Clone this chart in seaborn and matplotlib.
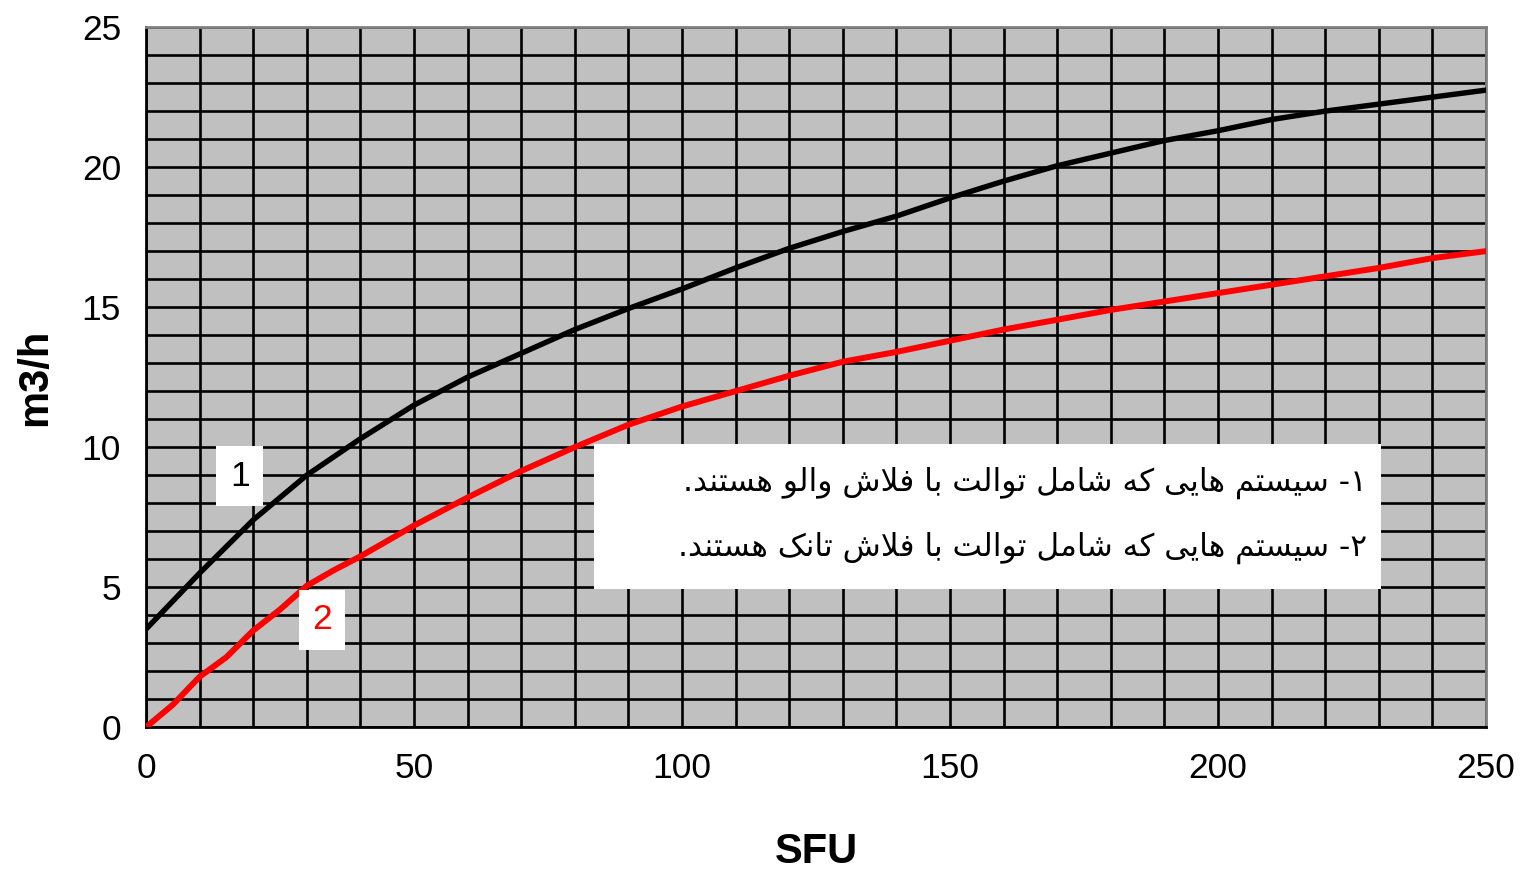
import numpy as np
import pandas as pd
import matplotlib
matplotlib.use("Agg")
import matplotlib.pyplot as plt
from matplotlib.ticker import MultipleLocator
from matplotlib.patches import Rectangle
import seaborn as sns

# ---------------- data ----------------
sfu = [0, 5, 10, 15, 20, 25, 30, 35, 40, 50, 60, 70, 80, 90, 100, 110, 120,
       130, 140, 150, 160, 170, 180, 190, 200, 210, 220, 230, 240, 250]
flow_valve = [3.5, 4.5, 5.5, 6.45, 7.4, 8.2, 9.0, 9.65, 10.3, 11.5, 12.5, 13.35,
              14.2, 14.95, 15.65, 16.4, 17.1, 17.7, 18.25, 18.9, 19.5, 20.05,
              20.5, 20.95, 21.3, 21.7, 22.0, 22.25, 22.5, 22.75]
flow_tank = [0.0, 0.8, 1.8, 2.5, 3.45, 4.2, 5.05, 5.6, 6.1, 7.2, 8.2, 9.15, 10.0,
             10.8, 11.45, 12.0, 12.55, 13.05, 13.4, 13.8, 14.2, 14.55, 14.9, 15.2,
             15.5, 15.8, 16.1, 16.4, 16.75, 17.0]
x_ticks = [0, 50, 100, 150, 200, 250]
y_ticks = [0, 5, 10, 15, 20, 25]
x_label = "SFU"
y_label = "m3/h"
curve_labels = ["1", "2"]
legend_lines = ["۱- سیستم هایی که شامل توالت با فلاش والو هستند.",
                "۲- سیستم هایی که شامل توالت با فلاش تانک هستند."]

# ---------------- minimal Persian shaping (matplotlib has no bidi) ----------------
FORMS = {
    '\u0627': ('\uFE8D', '\uFE8E', None, None),
    '\u0628': ('\uFE8F', '\uFE90', '\uFE91', '\uFE92'),
    '\u062A': ('\uFE95', '\uFE96', '\uFE97', '\uFE98'),
    '\u062F': ('\uFEA9', '\uFEAA', None, None),
    '\u0633': ('\uFEB1', '\uFEB2', '\uFEB3', '\uFEB4'),
    '\u0634': ('\uFEB5', '\uFEB6', '\uFEB7', '\uFEB8'),
    '\u0641': ('\uFED1', '\uFED2', '\uFED3', '\uFED4'),
    '\u0644': ('\uFEDD', '\uFEDE', '\uFEDF', '\uFEE0'),
    '\u0645': ('\uFEE1', '\uFEE2', '\uFEE3', '\uFEE4'),
    '\u0646': ('\uFEE5', '\uFEE6', '\uFEE7', '\uFEE8'),
    '\u0647': ('\uFEE9', '\uFEEA', '\uFEEB', '\uFEEC'),
    '\u0648': ('\uFEED', '\uFEEE', None, None),
    '\u06A9': ('\uFB8E', '\uFB8F', '\uFB90', '\uFB91'),
    '\u06CC': ('\uFBFC', '\uFBFD', '\uFBFE', '\uFBFF'),
}
LAM, ALEF = '\u0644', '\u0627'


def shape_rtl(text):
    chars = list(text)
    n = len(chars)
    dual = lambda c: c in FORMS and FORMS[c][2] is not None
    out = []
    i = 0
    while i < n:
        c = chars[i]
        if c not in FORMS:
            out.append(c)
            i += 1
            continue
        link_prev = i > 0 and dual(chars[i - 1])
        if c == LAM and i + 1 < n and chars[i + 1] == ALEF:
            out.append('\uFEFC' if link_prev else '\uFEFB')
            i += 2
            continue
        link_next = dual(c) and i + 1 < n and chars[i + 1] in FORMS
        iso, fin, ini, med = FORMS[c]
        if link_prev and link_next:
            out.append(med)
        elif link_prev:
            out.append(fin)
        elif link_next:
            out.append(ini)
        else:
            out.append(iso)
        i += 1
    return ''.join(reversed(out))


# ---------------- plot ----------------
sns.set_theme(style="white")
plt.rcParams['font.family'] = ['Liberation Sans', 'DejaVu Sans']

fig = plt.figure(figsize=(15.21, 8.75), dpi=100)
ax = fig.add_axes([0.096, 0.169, 0.881, 0.8])
ax.set_facecolor('#C0C0C0')

df = pd.DataFrame({"sfu": sfu, "valve": flow_valve, "tank": flow_tank})
sns.lineplot(data=df, x="sfu", y="valve", color="black", linewidth=3.9, ax=ax,
             zorder=5)
sns.lineplot(data=df, x="sfu", y="tank", color="#FF0000", linewidth=4.3, ax=ax,
             zorder=5)

ax.set_xlim(0, 250)
ax.set_ylim(0, 25)
ax.set_xticks(x_ticks)
ax.set_yticks(y_ticks)
ax.xaxis.set_minor_locator(MultipleLocator(10))
ax.yaxis.set_minor_locator(MultipleLocator(1))
ax.grid(True, which='both', color='black', lw=1.9, zorder=0)
ax.set_axisbelow(True)
ax.tick_params(axis='both', which='major', direction='out', length=7, width=1.9,
               color='black', labelsize=25.5, pad=11, labelcolor='black')
ax.tick_params(axis='both', which='minor', length=0)

for side in ['left', 'bottom']:
    ax.spines[side].set_color('black')
    ax.spines[side].set_linewidth(2.0)
for side in ['top', 'right']:
    ax.spines[side].set_color('#808080')
    ax.spines[side].set_linewidth(2.0)

ax.set_xlabel(x_label, fontsize=30, fontweight='bold', color='black')
ax.set_ylabel(y_label, fontsize=30, fontweight='bold', color='black')
ax.xaxis.set_label_coords(0.5, -0.179)
ax.yaxis.set_label_coords(-0.083, 0.5)
ax.xaxis.label.set_va('center')
ax.yaxis.label.set_va('center')

# curve number tags
ax.text(17.5, 8.96, curve_labels[0], fontsize=25.5, color='black', ha='center',
        va='center', zorder=6,
        bbox=dict(boxstyle='square,pad=0.38', fc='white', ec='none'))
ax.text(32.8, 3.84, curve_labels[1], fontsize=25.5, color='#FF0000', ha='center',
        va='center', zorder=6,
        bbox=dict(boxstyle='square,pad=0.38', fc='white', ec='none'))

# legend box with Persian text
ax.add_patch(Rectangle((0.334, 0.197), 0.5876, 0.207, transform=ax.transAxes,
                       fc='white', ec='none', zorder=6))
for txt, yy in zip(legend_lines, [0.349, 0.256]):
    ax.text(0.911, yy, shape_rtl(txt), transform=ax.transAxes, fontsize=22.5,
            family=['DejaVu Sans'], ha='right', va='center', color='black',
            zorder=7)

fig.savefig("out.png", dpi=100)
